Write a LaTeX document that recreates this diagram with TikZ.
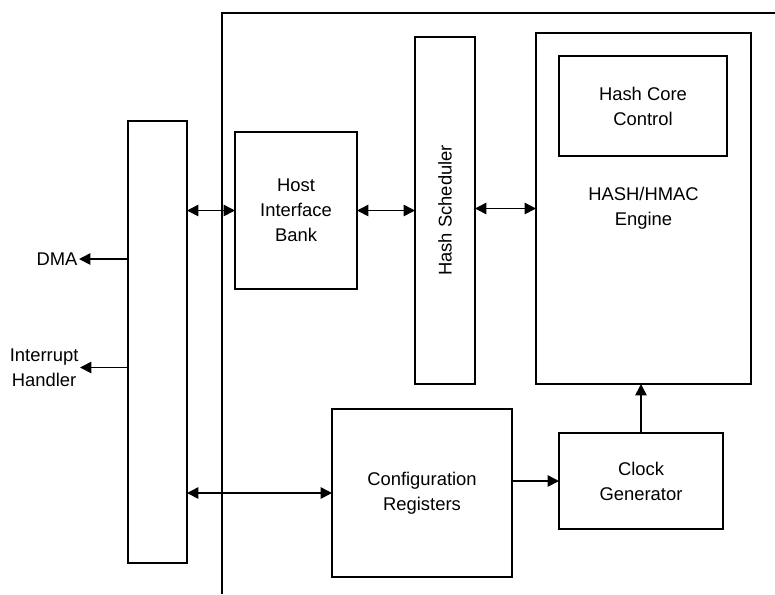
\documentclass[tikz,border=0pt]{standalone}
\usepackage{fontspec}
\setmainfont{Liberation Sans}
\usepackage{tikz}
\usetikzlibrary{arrows.meta,positioning}

\begin{document}
\begin{tikzpicture}[
  x=0.75pt, y=-0.75pt,
  >={Triangle[length=8.5pt,width=8.5pt]},
  every node/.style={font=\fontsize{13.8}{18.75}\selectfont},
  block/.style={rectangle, draw, line width=2pt, align=center,
    inner sep=0pt, outer sep=0pt},
  link/.style={->, line width=1.2pt},
  dlink/.style={<->, line width=1.2pt},
  extlabel/.style={align=center, inner sep=1pt, anchor=east},
]
\useasboundingbox (0,0) rectangle (775,594);

% Outer boundary (open frame)
\draw[line width=2pt] (222,594) -- (222,13) -- (775,13);

% Blocks
\node[block, minimum width=44.25pt, minimum height=331.5pt] at (157.5,342) (bus) {};
\node[block, minimum width=91.5pt, minimum height=117.75pt] at (296,210.5) (host) {Host\\Interface\\Bank};
\node[block, minimum width=45pt, minimum height=260.25pt] at (445,210.5) (sched) {};
\node[rotate=90] at (445,210.5) (schedtxt) {Hash Scheduler};
\node[block, minimum width=161.25pt, minimum height=263.25pt] at (643.5,208.5) (engine) {HASH/HMAC\\Engine};
\node[block, minimum width=126pt, minimum height=75pt] at (643,106) (core) {Hash Core\\Control};
\node[block, minimum width=135pt, minimum height=126pt] at (422,493) (config) {Configuration\\Registers};
\node[block, minimum width=123pt, minimum height=72pt] at (641,481) (clock) {Clock\\Generator};

% External labels
\node[extlabel] at (79,259) (dma) {DMA};
\node[extlabel] at (80,367.5) (irq) {Interrupt\\Handler};

% Connections
\draw[link] (dma.east -| bus.west) -- (dma.east);
\draw[link] (irq.east -| bus.west) -- (irq.east);
\draw[dlink] (host.west -| bus.east) -- (host.west);
\draw[dlink] (host.east) -- (sched.west);
\draw[dlink] (sched.east |- engine.west) -- (engine.west);
\draw[dlink] (config.west -| bus.east) -- (config.west);
\draw[link] (clock.west -| config.east) -- (clock.west);
\draw[link] (clock.north) -- (clock.north |- engine.south);

\end{tikzpicture}
\end{document}
